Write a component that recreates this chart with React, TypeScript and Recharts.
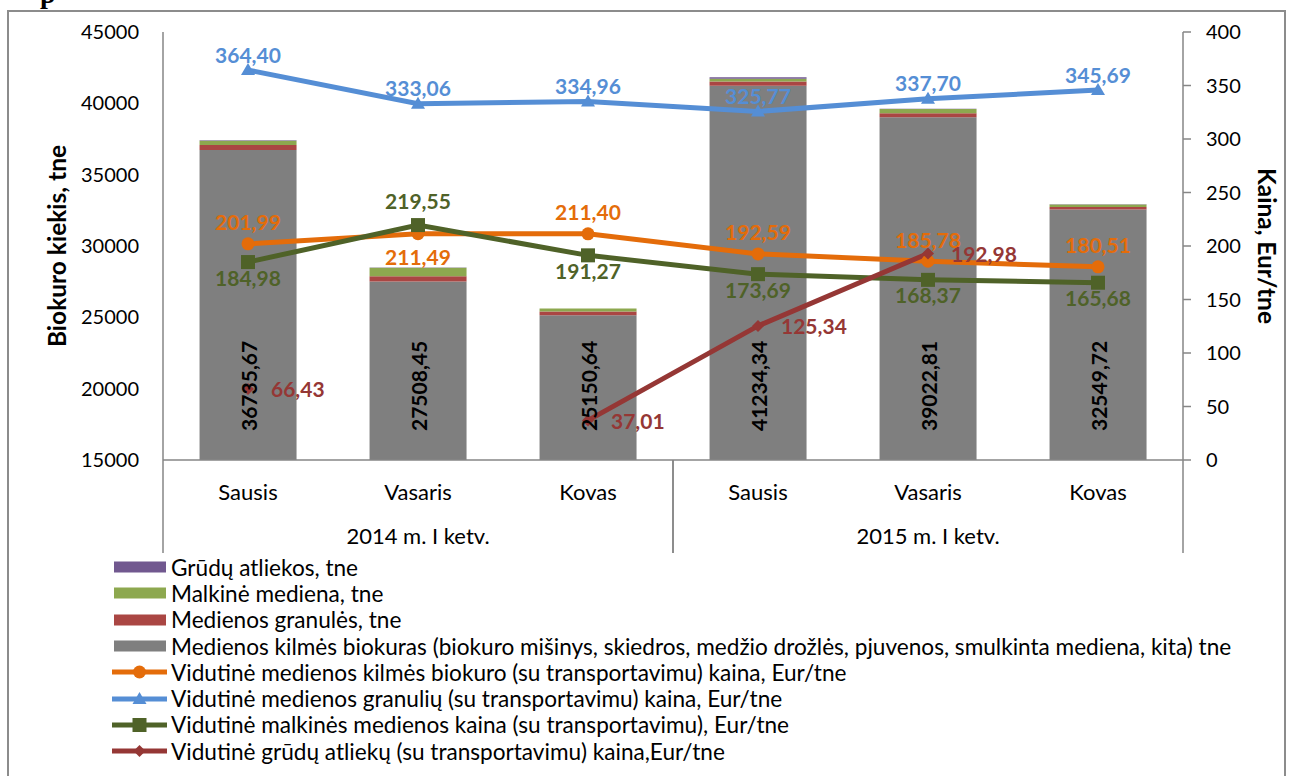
import React from 'react'
import { ComposedChart, Bar, Line, XAxis, YAxis, Legend, LabelList } from 'recharts'

// categories
const months = ['Sausis', 'Vasaris', 'Kovas', 'Sausis', 'Vasaris', 'Kovas']
const quarters = ['2014 m. I ketv.', '2014 m. I ketv.', '2014 m. I ketv.', '2015 m. I ketv.', '2015 m. I ketv.', '2015 m. I ketv.']

// quantities, tne (left axis)
const kilmesBiokuras = [36735.67, 27508.45, 25150.64, 41234.34, 39022.81, 32549.72]
const granules = [350, 370, 250, 300, 280, 190]
const malkine = [300, 590, 210, 190, 300, 170]
const grudai = [30, 20, 10, 110, 20, 20]

// prices, Eur/tne (right axis)
const kainaBiokuro = [201.99, 211.49, 211.4, 192.59, 185.78, 180.51]
const kainaGranuliu = [364.4, 333.06, 334.96, 325.77, 337.7, 345.69]
const kainaMalkines = [184.98, 219.55, 191.27, 173.69, 168.37, 165.68]
const kainaGrudu = [66.43, null, 37.01, 125.34, 192.98, null]

const leftTicks = [15000, 20000, 25000, 30000, 35000, 40000, 45000]
const rightTicks = [0, 50, 100, 150, 200, 250, 300, 350, 400]

const data = months.map((month, i) => ({
  month,
  quarter: quarters[i],
  kilmes: kilmesBiokuras[i],
  granules: granules[i],
  malkine: malkine[i],
  grudai: grudai[i],
  kainaBiokuro: kainaBiokuro[i],
  kainaGranuliu: kainaGranuliu[i],
  kainaMalkines: kainaMalkines[i],
  kainaGrudu: kainaGrudu[i],
}))

const COLORS: Record<string, string> = {
  kilmes: '#7F7F7F',
  granules: '#AA4643',
  malkine: '#8DA84F',
  grudai: '#71588F',
  kainaBiokuro: '#E46C0A',
  kainaGranuliu: '#558ED5',
  kainaMalkines: '#4F6228',
  kainaGrudu: '#953735',
}

const MARKERS: Record<string, string> = {
  kainaBiokuro: 'circle',
  kainaGranuliu: 'triangle',
  kainaMalkines: 'square',
  kainaGrudu: 'diamond',
}

// where each point's value label sits
const biokuroLabelPos = ['top', 'bottom', 'top', 'top', 'top', 'top']
const granuliuLabelPos = ['top', 'top', 'top', 'top', 'top', 'top']
const malkinesLabelPos = ['bottom', 'top', 'bottom', 'bottom', 'bottom', 'bottom']
const gruduLabelPos = ['right', 'right', 'right', 'right', 'right', 'right']

// label distance from the point, per series
const LABEL_GAP: Record<string, { top: number; bottom: number }> = {
  kainaBiokuro: { top: 22, bottom: 23 },
  kainaGranuliu: { top: 16, bottom: 16 },
  kainaMalkines: { top: 25, bottom: 15 },
  kainaGrudu: { top: 18, bottom: 16 },
}

const legendOrder = ['grudai', 'malkine', 'granules', 'kilmes', 'kainaBiokuro', 'kainaGranuliu', 'kainaMalkines', 'kainaGrudu']

const AXIS = '#868686'
const FONT = 'Lato, "Open Sans", sans-serif'

const fmt = (v: number) => v.toFixed(2).replace('.', ',')

function Marker({ kind, cx, cy, color }: { kind: string; cx: number; cy: number; color: string }) {
  if (kind === 'circle') return <circle cx={cx} cy={cy} r={6.5} fill={color} />
  if (kind === 'triangle')
    return <polygon points={`${cx},${cy - 7} ${cx - 7},${cy + 5} ${cx + 7},${cy + 5}`} fill={color} />
  if (kind === 'square') return <rect x={cx - 7} y={cy - 7} width={14} height={14} fill={color} />
  return <polygon points={`${cx},${cy - 6} ${cx + 6},${cy} ${cx},${cy + 6} ${cx - 6},${cy}`} fill={color} />
}

const makeDot = (key: string) => (p: any) => {
  if (p.cx == null || p.cy == null || p.value == null) return <g key={`${key}-${p.index}`} />
  return (
    <g key={`${key}-${p.index}`}>
      <Marker kind={MARKERS[key]} cx={p.cx} cy={p.cy} color={COLORS[key]} />
    </g>
  )
}

const makeLineLabel = (key: string, pos: string[]) => (props: any) => {
  const { value, index } = props
  const x = props.x ?? props.viewBox?.x
  const y = props.y ?? props.viewBox?.y
  if (value == null || x == null || y == null) return null
  const p = pos[index]
  const gap = LABEL_GAP[key]
  let tx = x
  let ty = y
  let anchor: 'middle' | 'start' = 'middle'
  if (p === 'top') ty = y - gap.top
  else if (p === 'bottom') ty = y + gap.bottom
  else {
    tx = x + 23
    anchor = 'start'
  }
  return (
    <text x={tx} y={ty} textAnchor={anchor} dominantBaseline="central" fill={COLORS[key]} fontSize={21} fontWeight="bold" fontFamily={FONT}>
      {fmt(Number(value))}
    </text>
  )
}

const BarValueLabel = (props: any) => {
  const vb = props.viewBox ?? props
  const x = props.x ?? vb.x
  const y = props.y ?? vb.y
  const width = props.width ?? vb.width
  const height = props.height ?? vb.height
  const cx = x + width / 2
  const base = y + height - 29
  return (
    <text x={cx} y={base} transform={`rotate(-90, ${cx}, ${base})`} textAnchor="start" dominantBaseline="central" fill="#000" fontSize={21} fontWeight="bold" fontFamily={FONT}>
      {fmt(Number(props.value))}
    </text>
  )
}

const CategoryTick = (props: any) => {
  const { x, y, payload, index } = props
  const half = payload?.offset ?? 85
  const pos = index % 3
  return (
    <g>
      <text x={x} y={y + 31} textAnchor="middle" dominantBaseline="central" fontSize={22} fill="#000" fontFamily={FONT}>
        {payload.value}
      </text>
      {pos === 1 && (
        <text x={x} y={y + 75} textAnchor="middle" dominantBaseline="central" fontSize={22} fill="#000" fontFamily={FONT}>
          {data[index].quarter}
        </text>
      )}
      {pos === 0 && <line x1={x - half} x2={x - half} y1={y} y2={y + 93} stroke={AXIS} strokeWidth={1.5} />}
      {pos === 2 && <line x1={x + half} x2={x + half} y1={y} y2={y + 93} stroke={AXIS} strokeWidth={1.5} />}
    </g>
  )
}

const renderLegend = (props: any) => {
  const items = [...(props.payload || [])].sort(
    (a: any, b: any) => legendOrder.indexOf(a.dataKey) - legendOrder.indexOf(b.dataKey)
  )
  return (
    <div style={{ fontFamily: FONT, fontSize: 22.6, color: '#000' }}>
      {items.map((it: any) => {
        const key = it.dataKey as string
        const color = COLORS[key]
        const isLine = !!MARKERS[key]
        return (
          <div key={key} style={{ display: 'flex', alignItems: 'center', height: 26.3, whiteSpace: 'nowrap' }}>
            <svg width={60} height={20} style={{ flex: 'none' }}>
              {isLine ? (
                <>
                  <line x1={1} x2={56} y1={10} y2={10} stroke={color} strokeWidth={5} />
                  <Marker kind={MARKERS[key]} cx={28.5} cy={10} color={color} />
                </>
              ) : (
                <rect x={3} y={4.5} width={52} height={11} fill={color} />
              )}
            </svg>
            <span>{it.value}</span>
          </div>
        )
      })}
    </div>
  )
}

export default function App() {
  return (
    <div style={{ position: 'fixed', left: 0, top: 0, width: 1291, height: 776, overflow: 'hidden', background: '#fff', fontFamily: FONT }}>
      <div style={{ position: 'absolute', left: 7, top: 10, width: 1279, height: 800, border: `2px solid #8c8c8c`, boxSizing: 'border-box' }} />
      <svg style={{ position: 'absolute', left: 0, top: 0 }} width={120} height={12}>
        <text x={40} y={3} fontFamily="'Liberation Serif', serif" fontWeight="bold" fontSize={28} fill="#000">p</text>
      </svg>
      <div style={{ position: 'absolute', left: 8, top: 8 }}>
        <ComposedChart
          width={1276}
          height={768}
          data={data}
          margin={{ top: 24, right: 6, left: 0, bottom: 208 }}
          barCategoryGap="21.5%"
        >
          <XAxis
            dataKey="month"
            xAxisId={0}
            interval={0}
            height={108}
            tickLine={false}
            tickSize={0}
            tickMargin={0}
            axisLine={{ stroke: AXIS, strokeWidth: 1.5 }}
            tick={CategoryTick}
          />
          <YAxis
            yAxisId="left"
            orientation="left"
            width={155}
            domain={[15000, 45000]}
            ticks={leftTicks}
            allowDataOverflow
            tickLine={false}
            tickSize={8}
            tickMargin={16}
            axisLine={{ stroke: AXIS, strokeWidth: 1.5 }}
            tick={{ fontSize: 20, fill: '#000', fontFamily: FONT }}
            label={{
              value: 'Biokuro kiekis, tne',
              angle: -90,
              position: 'insideLeft',
              offset: 49,
              fontSize: 24.5,
              fontWeight: 'bold',
              fill: '#000',
              style: { textAnchor: 'middle', fontFamily: FONT },
            }}
          />
          <YAxis
            yAxisId="right"
            orientation="right"
            width={95}
            domain={[0, 400]}
            ticks={rightTicks}
            tickLine={{ stroke: AXIS, strokeWidth: 1.5 }}
            tickSize={8}
            tickMargin={15}
            axisLine={{ stroke: AXIS, strokeWidth: 1.5 }}
            tick={{ fontSize: 20, fill: '#000', fontFamily: FONT }}
            label={{
              value: 'Kaina, Eur/tne',
              angle: 90,
              position: 'insideRight',
              offset: 11,
              fontSize: 24.5,
              fontWeight: 'bold',
              fill: '#000',
              style: { textAnchor: 'middle', fontFamily: FONT },
            }}
          />
          <Legend
            layout="horizontal"
            align="center"
            verticalAlign="middle"
            wrapperStyle={{ left: 103, top: 546, width: 1160, height: 215 }}
            content={renderLegend}
          />

          <Bar yAxisId="left" dataKey="kilmes" stackId="q" fill={COLORS.kilmes} isAnimationActive={false}
            name="Medienos kilmės biokuras (biokuro mišinys, skiedros, medžio drožlės, pjuvenos, smulkinta mediena, kita) tne">
            <LabelList dataKey="kilmes" content={BarValueLabel} />
          </Bar>
          <Bar yAxisId="left" dataKey="granules" stackId="q" fill={COLORS.granules} isAnimationActive={false} name="Medienos granulės, tne" />
          <Bar yAxisId="left" dataKey="malkine" stackId="q" fill={COLORS.malkine} isAnimationActive={false} name="Malkinė mediena, tne" />
          <Bar yAxisId="left" dataKey="grudai" stackId="q" fill={COLORS.grudai} isAnimationActive={false} name="Grūdų atliekos, tne" />

          <Line yAxisId="right" dataKey="kainaBiokuro" stroke={COLORS.kainaBiokuro} strokeWidth={5} dot={makeDot('kainaBiokuro')}
            activeDot={false} isAnimationActive={false} name="Vidutinė medienos kilmės biokuro (su transportavimu) kaina, Eur/tne">
            <LabelList dataKey="kainaBiokuro" content={makeLineLabel('kainaBiokuro', biokuroLabelPos)} />
          </Line>
          <Line yAxisId="right" dataKey="kainaGranuliu" stroke={COLORS.kainaGranuliu} strokeWidth={5} dot={makeDot('kainaGranuliu')}
            activeDot={false} isAnimationActive={false} name="Vidutinė medienos granulių (su transportavimu) kaina, Eur/tne">
            <LabelList dataKey="kainaGranuliu" content={makeLineLabel('kainaGranuliu', granuliuLabelPos)} />
          </Line>
          <Line yAxisId="right" dataKey="kainaMalkines" stroke={COLORS.kainaMalkines} strokeWidth={5} dot={makeDot('kainaMalkines')}
            activeDot={false} isAnimationActive={false} name="Vidutinė malkinės medienos kaina (su transportavimu), Eur/tne">
            <LabelList dataKey="kainaMalkines" content={makeLineLabel('kainaMalkines', malkinesLabelPos)} />
          </Line>
          <Line yAxisId="right" dataKey="kainaGrudu" stroke={COLORS.kainaGrudu} strokeWidth={5} dot={makeDot('kainaGrudu')}
            activeDot={false} isAnimationActive={false} connectNulls={false} name="Vidutinė grūdų atliekų (su transportavimu) kaina,Eur/tne">
            <LabelList dataKey="kainaGrudu" content={makeLineLabel('kainaGrudu', gruduLabelPos)} />
          </Line>
        </ComposedChart>
      </div>
    </div>
  )
}
